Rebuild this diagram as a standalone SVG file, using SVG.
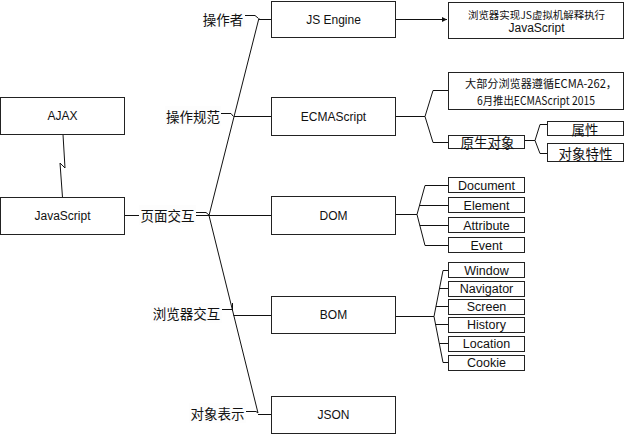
<svg xmlns="http://www.w3.org/2000/svg" width="625" height="436" viewBox="0 0 625 436">
<style>
.box{fill:#fff;stroke:#222;stroke-width:1}
.ln{fill:none;stroke:#111;stroke-width:1}
.t{font-family:"Liberation Sans","Noto Sans CJK SC",sans-serif;font-size:12px;fill:#111;text-anchor:middle;dominant-baseline:central}
.s{font-size:12.5px}
.cn{font-family:"Noto Sans CJK SC",sans-serif;font-size:13.5px;fill:#111;text-anchor:middle;dominant-baseline:central}
.note{font-family:"Noto Sans CJK SC",sans-serif;fill:#111;text-anchor:middle;dominant-baseline:central}
.bg{fill:#fdfdfd;stroke:none}
</style>
<defs>
<marker id="arr" markerWidth="6" markerHeight="6" refX="5" refY="3" orient="auto" markerUnits="userSpaceOnUse">
<path d="M0,0.5 L5,3 L0,5.5 Z" fill="#111"/>
</marker>
</defs>
<g id="connectors">
<path class="ln" d="M63,134.5 L65,168 L60,163 L62.5,197.5"/>
<path class="ln" d="M125,215.5 L209,215.5"/>
<path class="ln" d="M259,18 L209,215.5 L258,413"/>
<path class="ln" d="M259,19.5 L271,19.5"/>
<path class="ln" d="M233.5,116.5 L271,116.5"/>
<path class="ln" d="M209,215.5 L271,215.5"/>
<path class="ln" d="M233.5,315.5 L271,315.5"/>
<path class="ln" d="M258,414.5 L271,414.5" stroke="#666"/>
<path class="ln" d="M245,15.5 L255,15.5 L258,18"/>
<path class="ln" d="M221,113.5 L231,113.5 L233,116"/>
<path class="ln" d="M196,212.5 L206,212.5 L209,215"/>
<path class="ln" d="M222,309.5 L232,309.5 M232.5,303 L232.5,311"/>
<path class="ln" d="M246,411.5 L256,411.5 L258,413"/>
<path class="ln" d="M395,19.5 L447,19.5" marker-end="url(#arr)"/>
<path class="ln" d="M395,116.5 L425,116.5 M448,90.5 L433,90.5 L425,116.5 L433,142.5 L448,142.5"/>
<path class="ln" d="M524,140.5 L535,140.5 M547,124.5 L540,124.5 L535,140.5 L540,153.5 L547,153.5"/>
<path class="ln" d="M395,214.5 L417,214.5 M448,185.5 L425,185.5 L417,214.5 L425,245.5 L448,245.5 M419.5,205.5 L448,205.5 M419.8,225.5 L448,225.5"/>
<path class="ln" d="M395,316.5 L434,316.5 M448,270.5 L443,270.5 L434,316.5 L443,362.5 L448,362.5 M439.5,288.5 L448,288.5 M436,306.5 L448,306.5 M435.6,324.5 L448,324.5 M439.3,343.5 L448,343.5"/>
</g>
<g id="lbl-czz"><rect class="bg" x="202" y="10" width="43" height="19"/><text class="cn" x="223" y="19">操作者</text></g>
<g id="lbl-czgf"><rect class="bg" x="165" y="106" width="56" height="20"/><text class="cn" x="193" y="116">操作规范</text></g>
<g id="lbl-ymjh"><rect class="bg" x="139" y="205" width="57" height="20"/><text class="cn" x="167.5" y="215">页面交互</text></g>
<g id="lbl-llqjh"><rect class="bg" x="151" y="303" width="71" height="20"/><text class="cn" x="186.5" y="313">浏览器交互</text></g>
<g id="lbl-dxbs"><rect class="bg" x="189" y="403" width="57" height="20"/><text class="cn" x="217.5" y="413">对象表示</text></g>
<g id="ajax"><rect class="box" x="0.5" y="97.5" width="124" height="37"/><text class="t" x="62.5" y="116">AJAX</text></g>
<g id="javascript"><rect class="box" x="0.5" y="197.5" width="124" height="37"/><text class="t" x="62.5" y="216">JavaScript</text></g>
<g id="jsengine"><rect class="box" x="271.5" y="1.5" width="124" height="36"/><text class="t" x="333.5" y="19.5">JS Engine</text></g>
<g id="ecmascript"><rect class="box" x="271.5" y="97.5" width="124" height="38"/><text class="t" x="333.5" y="116.5">ECMAScript</text></g>
<g id="dom"><rect class="box" x="271.5" y="196.5" width="124" height="38"/><text class="t" x="333.5" y="215.5">DOM</text></g>
<g id="bom"><rect class="box" x="271.5" y="296.5" width="124" height="37"/><text class="t" x="333.5" y="315">BOM</text></g>
<g id="json"><rect class="box" x="271.5" y="396.5" width="124" height="37"/><text class="t" x="333.5" y="415">JSON</text></g>
<g id="note-engine"><rect class="box" x="448.5" y="2.5" width="175" height="36"/>
<text class="note" x="536.5" y="14" font-size="10" textLength="137" lengthAdjust="spacingAndGlyphs">浏览器实现JS虚拟机解释执行</text>
<text class="t" x="536.5" y="28" font-size="9">JavaScript</text></g>
<g id="note-ecma"><rect class="box" x="448.5" y="72.5" width="175" height="37"/>
<text class="note" x="541" y="83" font-size="11.5" textLength="152" lengthAdjust="spacingAndGlyphs">大部分浏览器遵循ECMA-262，</text>
<text class="note" x="536" y="100" font-size="11.5" textLength="118" lengthAdjust="spacingAndGlyphs">6月推出ECMAScript 2015</text></g>
<g id="native"><rect class="box" x="448.5" y="135.5" width="76" height="13"/><text class="cn" x="487.5" y="142" font-size="13">原生对象</text></g>
<g id="attr-cn"><rect class="box" x="547.5" y="121.5" width="76" height="14"/><text class="cn" x="585" y="128.5" font-size="13">属性</text></g>
<g id="feature"><rect class="box" x="547.5" y="143.5" width="76" height="18"/><text class="cn" x="585.5" y="153" font-size="13">对象特性</text></g>
<g id="document"><rect class="box" x="448.5" y="177.5" width="76" height="15"/><text class="t s" x="486.5" y="185.5">Document</text></g>
<g id="element"><rect class="box" x="448.5" y="197.5" width="76" height="15"/><text class="t s" x="486.5" y="205.5">Element</text></g>
<g id="attribute"><rect class="box" x="448.5" y="217.5" width="76" height="15"/><text class="t s" x="486.5" y="225.5">Attribute</text></g>
<g id="event"><rect class="box" x="448.5" y="237.5" width="76" height="15"/><text class="t s" x="486.5" y="245.5">Event</text></g>
<g id="window"><rect class="box" x="448.5" y="262.5" width="76" height="15"/><text class="t s" x="486.5" y="270.5">Window</text></g>
<g id="navigator"><rect class="box" x="448.5" y="281.5" width="76" height="15"/><text class="t s" x="486.5" y="289">Navigator</text></g>
<g id="screen"><rect class="box" x="448.5" y="299.5" width="76" height="15"/><text class="t s" x="486.5" y="307">Screen</text></g>
<g id="history"><rect class="box" x="448.5" y="317.5" width="76" height="15"/><text class="t s" x="486.5" y="325">History</text></g>
<g id="location"><rect class="box" x="448.5" y="336.5" width="76" height="15"/><text class="t s" x="486.5" y="344">Location</text></g>
<g id="cookie"><rect class="box" x="448.5" y="355.5" width="76" height="15"/><text class="t s" x="486.5" y="363">Cookie</text></g>
</svg>
